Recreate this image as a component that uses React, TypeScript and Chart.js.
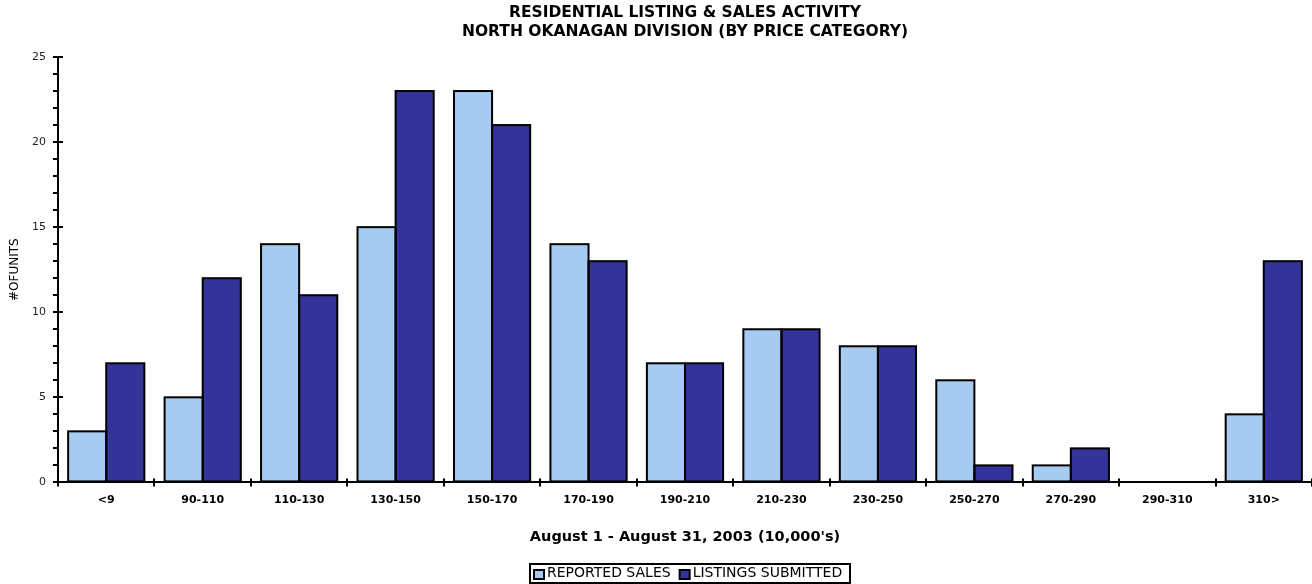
import { useEffect, useRef } from 'react';
import { Chart, registerables } from 'chart.js';

Chart.register(...registerables);

const categories = ['<9', '90-110', '110-130', '130-150', '150-170', '170-190', '190-210', '210-230', '230-250', '250-270', '270-290', '290-310', '310>'];
const reportedSales = [3, 5, 14, 15, 23, 14, 7, 9, 8, 6, 1, 0, 4];
const listingsSubmitted = [7, 12, 11, 23, 21, 13, 7, 9, 8, 1, 2, 0, 13];
const seriesNames = ['REPORTED SALES', 'LISTINGS SUBMITTED'];
const seriesColors = ['#A6CAF0', '#333399'];
const titleLines = ['RESIDENTIAL LISTING & SALES ACTIVITY', 'NORTH OKANAGAN DIVISION (BY PRICE CATEGORY)'];
const xTitle = "August 1 - August 31, 2003 (10,000's)";
const yTitle = '#OFUNITS';
const yMajorTicks = [0, 5, 10, 15, 20, 25];

const FONT = "'DejaVu Sans', 'Liberation Sans', Arial, sans-serif";

const decorPlugin = {
  id: 'decor',
  afterDatasetsDraw(chart: any) {
    const ctx = chart.ctx;
    const a = chart.chartArea;
    ctx.save();
    ctx.strokeStyle = '#000';
    ctx.lineWidth = 2;
    chart.data.datasets.forEach((ds: any, di: number) => {
      const meta = chart.getDatasetMeta(di);
      meta.data.forEach((el: any, i: number) => {
        if (!ds.data[i]) return;
        const p = el.getProps(['x', 'y', 'base', 'width'], true);
        ctx.strokeRect(p.x - p.width / 2, p.y, p.width, p.base - p.y);
      });
    });
    const xs = chart.scales.x;
    const ys = chart.scales.y;
    ctx.beginPath();
    yMajorTicks.forEach((v) => {
      const py = Math.round(ys.getPixelForValue(v));
      ctx.moveTo(a.left, py);
      ctx.lineTo(a.left + 5, py);
    });
    for (let i = 0; i <= categories.length; i++) {
      const px = Math.round(xs.getPixelForValue(i - 0.5));
      ctx.moveTo(px, a.bottom);
      ctx.lineTo(px, a.bottom - 4);
    }
    ctx.stroke();
    ctx.restore();
  },
  afterDraw(chart: any) {
    const ctx = chart.ctx;
    ctx.save();
    ctx.font = `14px ${FONT}`;
    const sw = 10, sh = 9, gapT = 3, gapItem = 9, padL = 4, padR = 8;
    const widths = seriesNames.map((n) => ctx.measureText(n).width);
    let W = padL + padR + gapItem * (seriesNames.length - 1);
    widths.forEach((w) => { W += sw + gapT + w; });
    const cx = 690, cy = 573;
    let x = Math.round(cx - W / 2);
    ctx.strokeStyle = '#000';
    ctx.lineWidth = 2;
    ctx.strokeRect(x, 564, Math.round(W), 19);
    x += padL;
    ctx.textBaseline = 'middle';
    ctx.textAlign = 'left';
    seriesNames.forEach((name, i) => {
      ctx.fillStyle = seriesColors[i];
      ctx.fillRect(x, cy - 3, sw, sh);
      ctx.strokeRect(x, cy - 3, sw, sh);
      ctx.fillStyle = '#000';
      ctx.fillText(name, x + sw + gapT, cy);
      x += sw + gapT + widths[i] + gapItem;
    });
    ctx.restore();
  },
};

export default function App() {
  const canvasRef = useRef<HTMLCanvasElement | null>(null);

  useEffect(() => {
    document.body.style.margin = '0';
    const canvas = canvasRef.current;
    if (!canvas) return;
    const chart = new Chart(canvas, {
      type: 'bar',
      data: {
        labels: categories,
        datasets: [
          {
            label: seriesNames[0],
            data: reportedSales,
            backgroundColor: seriesColors[0],
            borderWidth: 0,
            categoryPercentage: 0.79,
            barPercentage: 1.0,
          },
          {
            label: seriesNames[1],
            data: listingsSubmitted,
            backgroundColor: seriesColors[1],
            borderWidth: 0,
            categoryPercentage: 0.79,
            barPercentage: 1.0,
          },
        ],
      },
      options: {
        responsive: false,
        animation: false,
        layout: { padding: { top: 0, left: 0, right: 0, bottom: 34 } },
        plugins: {
          legend: { display: false },
          tooltip: { enabled: false },
          title: {
            display: true,
            text: titleLines,
            color: '#000',
            fullSize: false,
            font: { family: FONT, size: 15.5, weight: 'bold', lineHeight: '19px' },
            padding: { top: 3.5, bottom: 15.5 },
          },
        },
        scales: {
          x: {
            offset: true,
            grid: { display: true, offset: true, drawOnChartArea: false, drawTicks: true, tickLength: 4, color: '#000', lineWidth: 2 },
            border: { display: true, color: '#000', width: 2 },
            ticks: { color: '#000', font: { family: FONT, size: 11, weight: 'bold' }, padding: 7, autoSkip: false, maxRotation: 0 },
            title: { display: true, text: xTitle, color: '#000', font: { family: FONT, size: 14.5, weight: 'bold' }, padding: { top: 15, bottom: 4 } },
          },
          y: {
            min: 0,
            max: 25,
            afterFit(s: any) { s.width = 58; },
            grid: { display: true, drawOnChartArea: false, drawTicks: true, tickLength: 5, color: '#000', lineWidth: 2 },
            border: { display: true, color: '#000', width: 2 },
            ticks: {
              stepSize: 1,
              autoSkip: false,
              padding: 7,
              color: '#222',
              font: { family: FONT, size: 11 },
              callback: (v: any) => (Number(v) % 5 === 0 ? String(v) : ''),
            },
            title: { display: true, text: yTitle, color: '#000', font: { family: FONT, size: 12 }, padding: { top: 8, bottom: 0 } },
          },
        },
      } as any,
      plugins: [decorPlugin],
    });
    return () => chart.destroy();
  }, []);

  return (
    <div style={{ width: 1312, height: 584 }}>
      <canvas ref={canvasRef} width={1312} height={584} style={{ display: 'block' }} />
    </div>
  );
}
